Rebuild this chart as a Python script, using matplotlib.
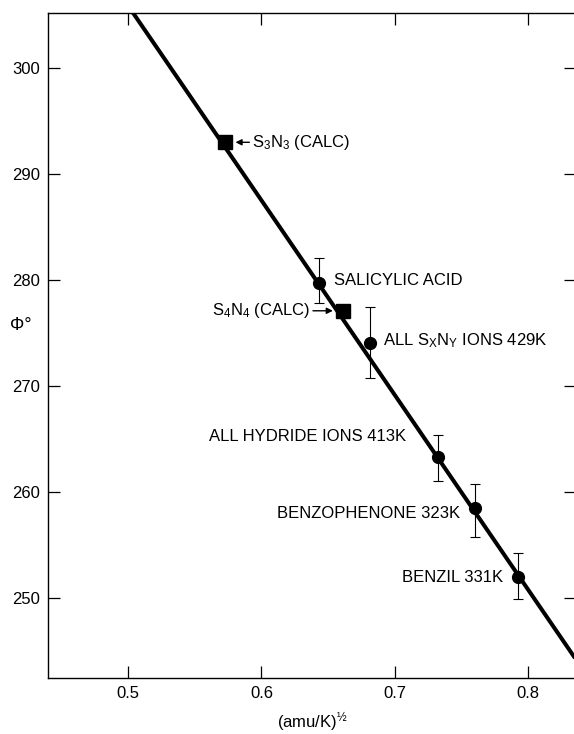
import matplotlib
matplotlib.use("Agg")
import matplotlib.pyplot as plt

plt.rcParams['font.family'] = ['Liberation Sans', 'DejaVu Sans']
plt.rcParams['mathtext.default'] = 'regular'

# measured points (circles) with error bars
meas_x = [0.643, 0.681, 0.7325, 0.760, 0.7925]
meas_y = [279.7, 274.1, 263.3, 258.5, 252.0]
err_lo = [277.8, 270.8, 261.0, 255.8, 249.9]
err_hi = [282.1, 277.5, 265.4, 260.8, 254.2]

# calculated points (squares)
calc_x = [0.5728, 0.661]
calc_y = [293.0, 277.1]

# fitted straight line (two end points)
fit_x = [0.50, 0.84]
fit_y = [305.9, 243.4]

xticks = [0.5, 0.6, 0.7, 0.8]
yticks = [250, 260, 270, 280, 290, 300]

fig = plt.figure(figsize=(5.74, 7.34), dpi=100)
ax = fig.add_axes([0.0836, 0.0763, 0.9164 + 0.003, 0.906])

ax.plot(fit_x, fit_y, color='black', lw=2.9, solid_capstyle='butt', zorder=2)

yerr = [[m - lo for m, lo in zip(meas_y, err_lo)],
        [hi - m for m, hi in zip(meas_y, err_hi)]]
ax.errorbar(meas_x, meas_y, yerr=yerr, fmt='o', color='black', ms=8.5,
            ecolor='black', elinewidth=0.8, capsize=3.5, capthick=0.8, zorder=3)
ax.plot(calc_x, calc_y, 's', color='black', ms=10, zorder=4)

ax.set_xlim(0.44, 0.8355)
ax.set_ylim(242.45, 305.2)
ax.set_xticks(xticks)
ax.set_yticks(yticks)
ax.set_xticklabels(['0.5', '0.6', '0.7', '0.8'])
ax.tick_params(direction='in', length=8.5, width=0.9, labelsize=12,
               top=True, right=True, pad=6)
ax.tick_params(axis='y', pad=6)
for s in ax.spines.values():
    s.set_linewidth(1.0)
ax.spines['right'].set_visible(False)

fs = 12
ax.annotate('S$_3$N$_3$ (CALC)', xy=(0.5805, 293.0), xytext=(0.593, 293.0),
            fontsize=fs, va='center', ha='left',
            arrowprops=dict(arrowstyle='-|>', color='black', lw=1.0,
                            mutation_scale=9, shrinkA=0, shrinkB=0))
ax.annotate('S$_4$N$_4$ (CALC)', xy=(0.6535, 277.1), xytext=(0.6365, 277.1),
            fontsize=fs, va='center', ha='right',
            arrowprops=dict(arrowstyle='-|>', color='black', lw=1.0,
                            mutation_scale=9, shrinkA=0, shrinkB=0))
ax.text(0.654, 280.0, 'SALICYLIC ACID', fontsize=fs, va='center', ha='left')
ax.text(0.691, 274.3, 'ALL S$_X$N$_Y$ IONS 429K', fontsize=fs, va='center', ha='left')
ax.text(0.7085, 265.2, 'ALL HYDRIDE IONS 413K', fontsize=fs, va='center', ha='right')
ax.text(0.749, 258.0, 'BENZOPHENONE 323K', fontsize=fs, va='center', ha='right')
ax.text(0.781, 251.9, 'BENZIL 331K', fontsize=fs, va='center', ha='right')

ax.text(-0.052, 0.53, 'Φ°', transform=ax.transAxes, fontsize=13,
        va='center', ha='center')
ax.set_xlabel('(amu/K)$^{½}$', fontsize=fs, labelpad=7)

fig.savefig('out.png', dpi=100)
